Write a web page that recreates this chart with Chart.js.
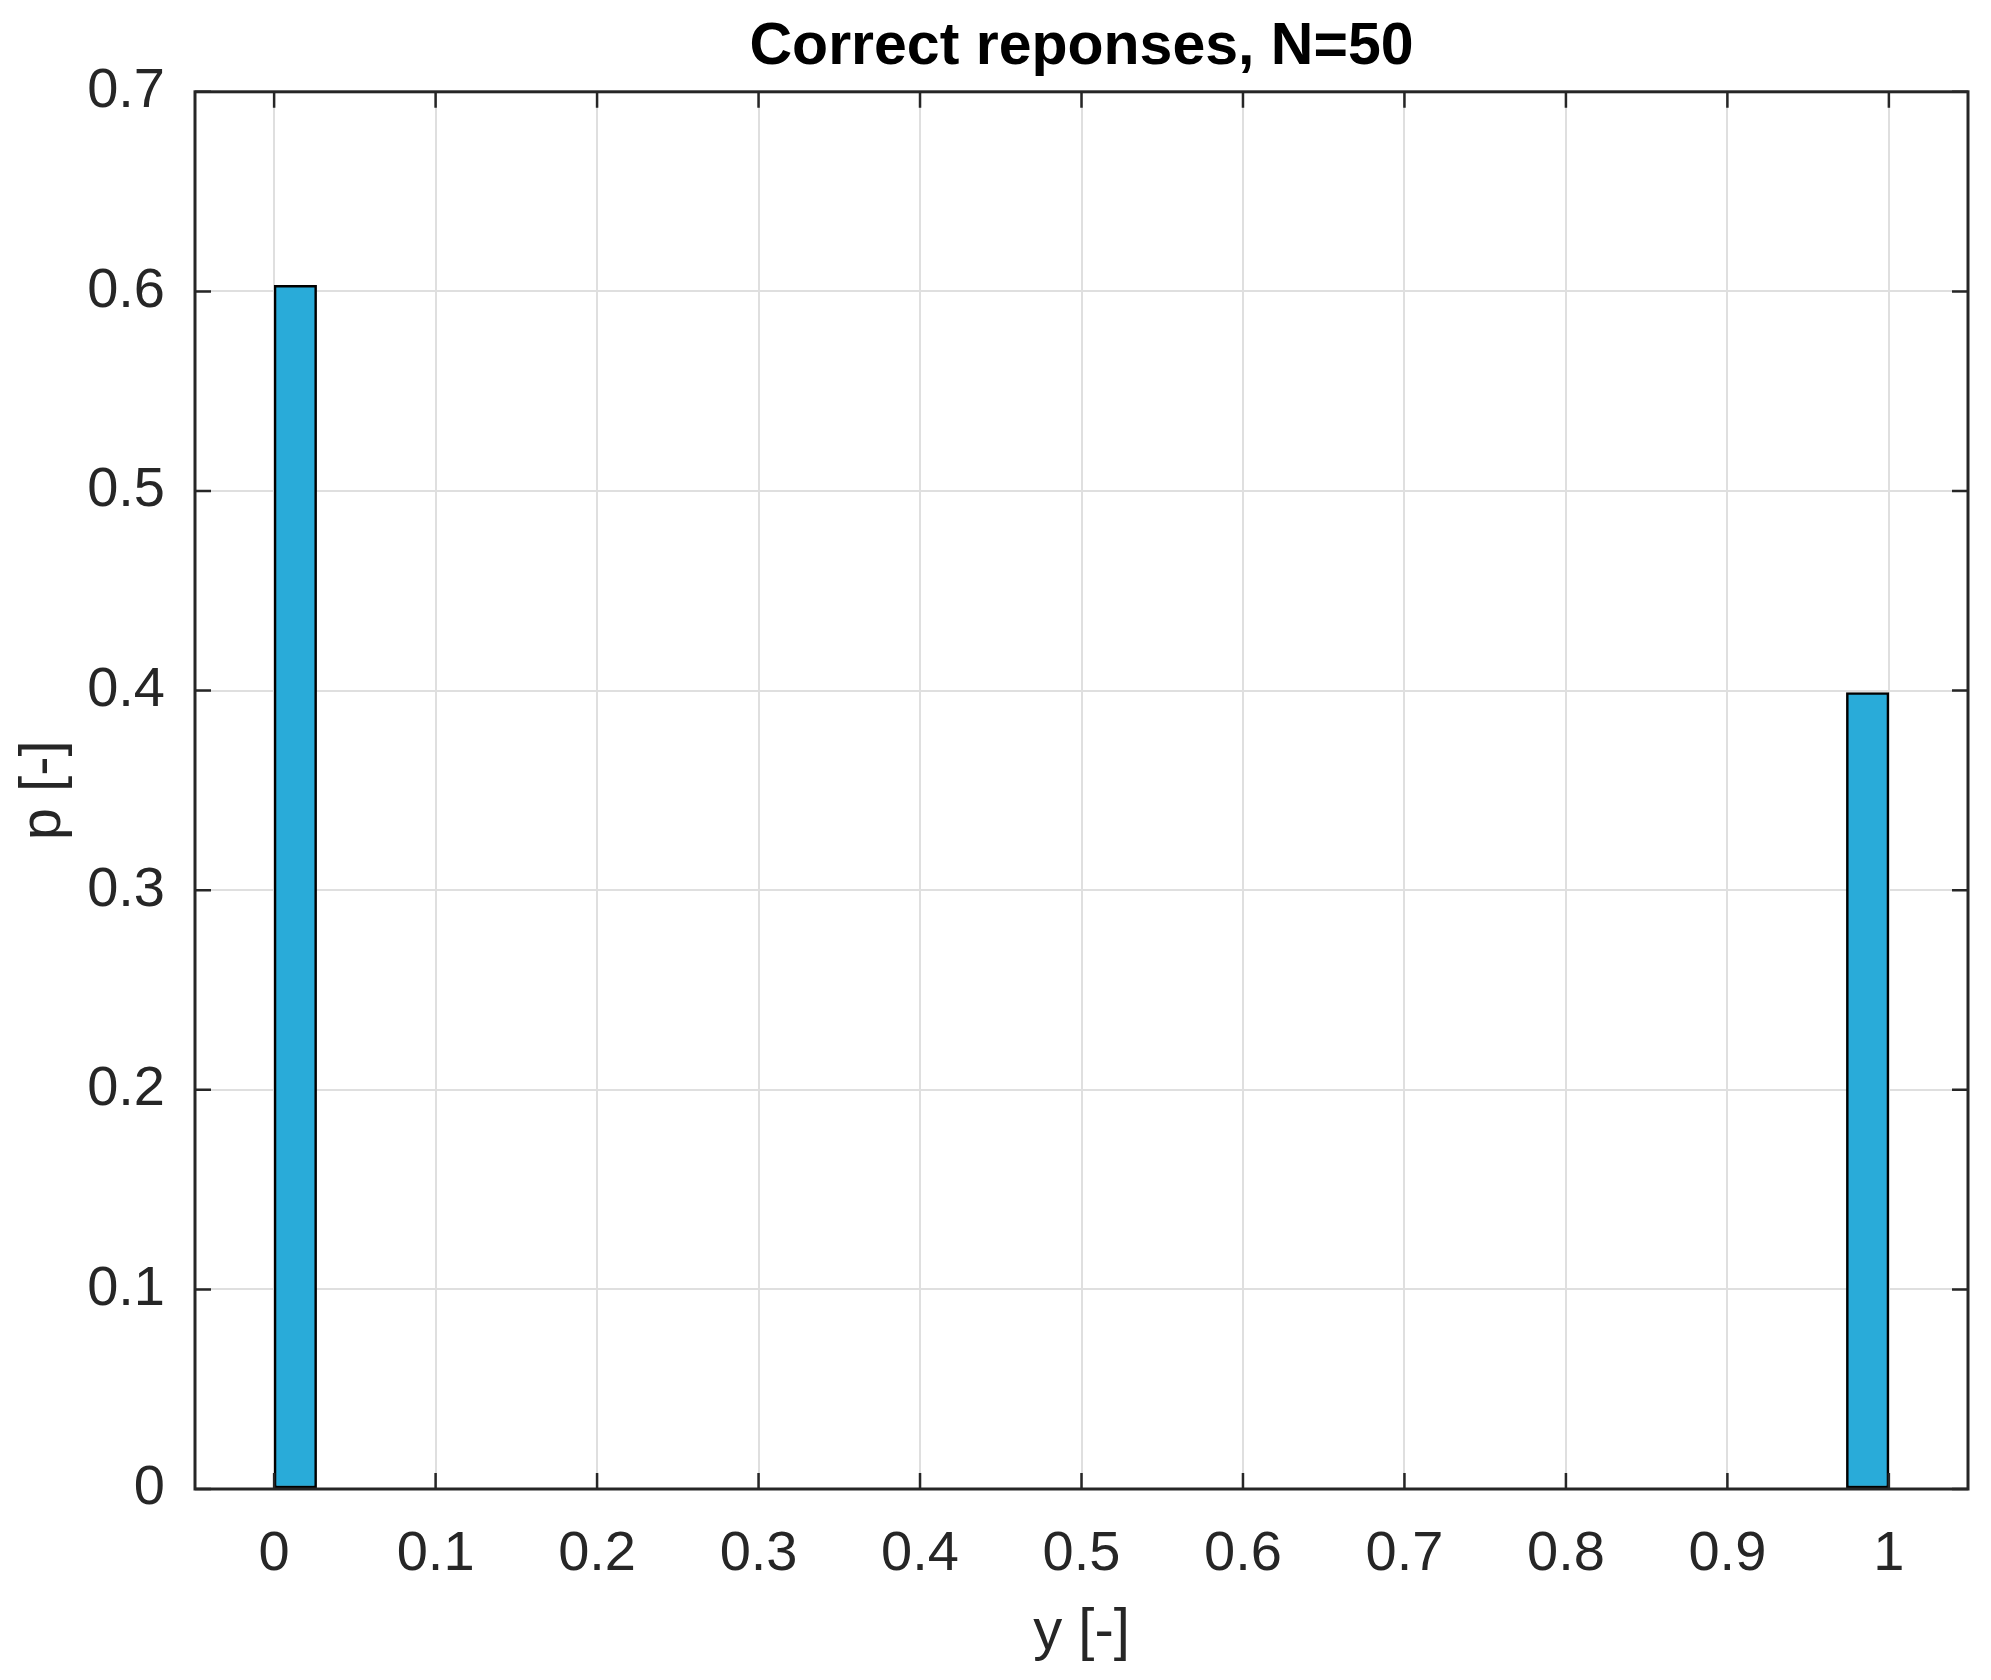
<!DOCTYPE html>
<html>
<head>
<meta charset="utf-8">
<script src="https://cdn.jsdelivr.net/npm/chart.js@4.4.1/dist/chart.umd.min.js"></script>
<style>
  html, body { margin: 0; padding: 0; background: #ffffff; }
  canvas { display: block; }
</style>
</head>
<body>
<canvas id="histChart" width="1991" height="1680"></canvas>
<script>
// histogram of correct responses (two occupied bins)
const binWidth = 1 / 38;
const binCenters = [binWidth / 2, 1 - binWidth / 2];
const probabilities = [0.603, 0.399];

const xTicks = [0, 0.1, 0.2, 0.3, 0.4, 0.5, 0.6, 0.7, 0.8, 0.9, 1];
const yTicks = [0, 0.1, 0.2, 0.3, 0.4, 0.5, 0.6, 0.7];

const chartTitle = 'Correct reponses, N=50';
const xLabel = 'y [-]';
const yLabel = 'p [-]';

const axisColor = '#262626';
const fontFamily = '"Liberation Sans", Arial, Helvetica, sans-serif';

// matlab style box with ticks pointing inwards
const boxPlugin = {
    id: 'boxPlugin',
    afterDatasetsDraw: function (chart) {
        const ctx = chart.ctx;
        const area = chart.chartArea;
        const xs = chart.scales.x;
        const ys = chart.scales.y;
        const tickLen = 16;

        ctx.save();
        ctx.strokeStyle = axisColor;
        ctx.lineWidth = 2.5;
        ctx.beginPath();
        xTicks.forEach(function (v) {
            const px = xs.getPixelForValue(v);
            ctx.moveTo(px, area.bottom);
            ctx.lineTo(px, area.bottom - tickLen);
            ctx.moveTo(px, area.top);
            ctx.lineTo(px, area.top + tickLen);
        });
        yTicks.forEach(function (v) {
            const py = ys.getPixelForValue(v);
            ctx.moveTo(area.left, py);
            ctx.lineTo(area.left + tickLen, py);
            ctx.moveTo(area.right, py);
            ctx.lineTo(area.right - tickLen, py);
        });
        ctx.stroke();

        ctx.lineWidth = 3;
        ctx.strokeRect(area.left, area.top, area.right - area.left, area.bottom - area.top);
        ctx.restore();
    }
};

var ctx = document.getElementById('histChart').getContext('2d');

const histChart = new Chart(ctx, {
    type: 'bar',
    data: {
        datasets: [{
            label: 'p',
            data: binCenters.map(function (c, i) {
                return { x: c, y: probabilities[i] };
            }),
            backgroundColor: '#29abd9',
            borderColor: '#000000',
            borderWidth: 2.5,
            borderSkipped: false,
            barThickness: function (context) {
                const s = context.chart.scales.x;
                if (!s) {
                    return 40;
                }
                return Math.abs(s.getPixelForValue(binWidth) - s.getPixelForValue(0));
            }
        }]
    },
    options: {
        responsive: false,
        animation: false,
        layout: {
            padding: { left: 0, right: 23, top: 0, bottom: 0 }
        },
        plugins: {
            legend: { display: false },
            tooltip: { enabled: false },
            title: {
                display: true,
                text: chartTitle,
                fullSize: false,
                color: '#000000',
                font: { family: fontFamily, size: 59, weight: 'bold', lineHeight: 1.2 },
                padding: { top: 12, bottom: 9 }
            }
        },
        scales: {
            x: {
                type: 'linear',
                min: -0.049,
                max: 1.049,
                offset: false,
                afterFit: function (scale) {
                    scale.height = 191;
                },
                grid: {
                    offset: false,
                    color: '#dfdfdf',
                    lineWidth: 2,
                    drawTicks: false
                },
                border: { display: false },
                ticks: {
                    stepSize: 0.1,
                    includeBounds: false,
                    autoSkip: false,
                    maxRotation: 0,
                    padding: 32,
                    color: axisColor,
                    font: { family: fontFamily, size: 56 },
                    callback: function (value) {
                        return String(Math.round(value * 10) / 10);
                    }
                },
                title: {
                    display: true,
                    text: xLabel,
                    color: axisColor,
                    font: { family: fontFamily, size: 58, lineHeight: 1.2 },
                    padding: { top: 0, bottom: 12 }
                }
            },
            y: {
                min: 0,
                max: 0.7,
                afterFit: function (scale) {
                    scale.width = 195;
                },
                grid: {
                    color: '#dfdfdf',
                    lineWidth: 2,
                    drawTicks: false
                },
                border: { display: false },
                ticks: {
                    stepSize: 0.1,
                    padding: 30,
                    color: axisColor,
                    font: { family: fontFamily, size: 56 },
                    callback: function (value) {
                        return String(Math.round(value * 10) / 10);
                    }
                },
                title: {
                    display: true,
                    text: yLabel,
                    color: axisColor,
                    font: { family: fontFamily, size: 58, lineHeight: 1.2 },
                    padding: { top: 9, bottom: 0 }
                }
            }
        }
    },
    plugins: [boxPlugin]
});
</script>
</body>
</html>
